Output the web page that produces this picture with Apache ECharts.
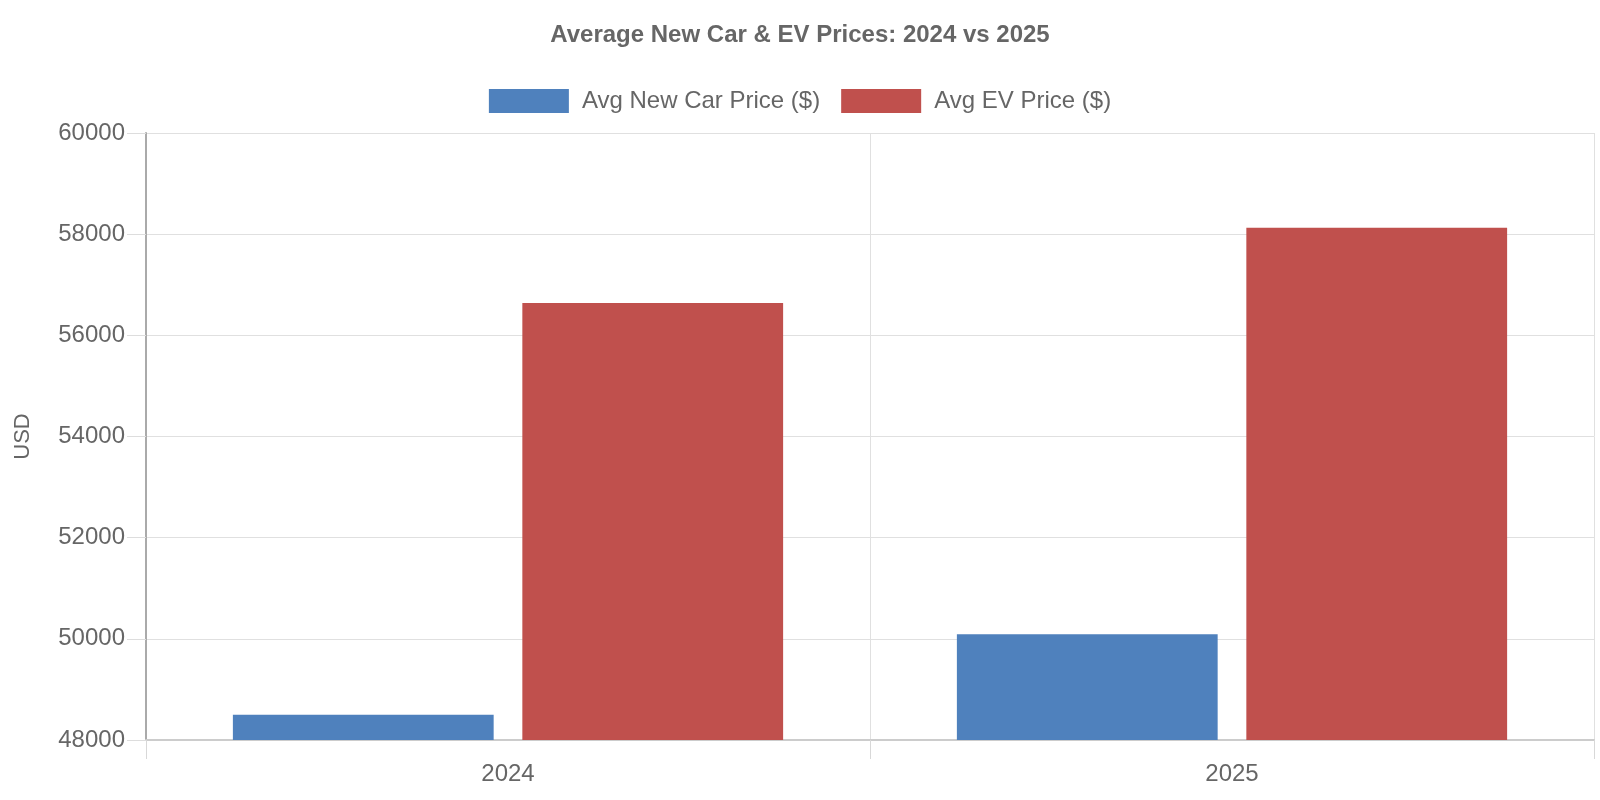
<!DOCTYPE html>
<html>
<head>
<meta charset="utf-8">
<script src="https://cdn.jsdelivr.net/npm/echarts@6/dist/echarts.min.js"></script>
<style>html,body{margin:0;padding:0;background:#fff}#c{width:1600px;height:800px}</style>
</head>
<body>
<div id="c"></div>
<script>
const categories = ['2024', '2025'];
const avgNewCarPrice = [48500, 50090];
const avgEvPrice = [56640, 58125];
const seriesNames = ['Avg New Car Price ($)', 'Avg EV Price ($)'];
const yMin = 48000, yMax = 60000, yStep = 2000;

const font = 'Liberation Sans, Arial, sans-serif';
const chart = echarts.init(document.getElementById('c'));
chart.setOption({
  animation: false,
  textStyle: { fontFamily: font },
  title: {
    text: 'Average New Car & EV Prices: 2024 vs 2025',
    left: 'center', top: 18,
    textStyle: { fontFamily: font, fontSize: 24, fontWeight: 'bold', color: '#666' }
  },
  legend: {
    top: 84, left: 'center',
    itemWidth: 80, itemHeight: 24, itemGap: 21,
    icon: 'rect',
    textStyle: { fontFamily: font, fontSize: 24, color: '#666', padding: [0, 0, 0, 8] },
    data: seriesNames
  },
  grid: { left: 146, right: 6, top: 133, bottom: 60, containLabel: false },
  xAxis: {
    type: 'category',
    data: categories,
    axisLine: { lineStyle: { color: '#cccccc', width: 2 } },
    axisTick: { show: true, length: 19, lineStyle: { color: '#d8d8d8' } },
    axisLabel: { fontFamily: font, fontSize: 24, color: '#666', margin: 22 },
    splitLine: { show: true, lineStyle: { color: '#e0e0e0' } }
  },
  yAxis: {
    type: 'value',
    min: yMin, max: yMax, interval: yStep,
    name: 'USD', nameLocation: 'middle', nameGap: 112,
    nameTextStyle: { fontFamily: font, fontSize: 22, color: '#666' },
    axisLine: { show: true, lineStyle: { color: '#aaaaaa', width: 2 } },
    axisTick: { show: true, length: 19, lineStyle: { color: '#dddddd' } },
    axisLabel: { fontFamily: font, fontSize: 24, color: '#666', margin: 21,
      formatter: function (v) { return String(v); } },
    splitLine: { show: true, lineStyle: { color: '#e0e0e0' } }
  },
  series: [
    {
      name: seriesNames[0], type: 'bar', data: avgNewCarPrice,
      itemStyle: { color: '#4F81BD' },
      barGap: '11%', barCategoryGap: '24%'
    },
    {
      name: seriesNames[1], type: 'bar', data: avgEvPrice,
      itemStyle: { color: '#C0504D' },
      barGap: '11%', barCategoryGap: '24%'
    }
  ]
});
</script>
</body>
</html>
